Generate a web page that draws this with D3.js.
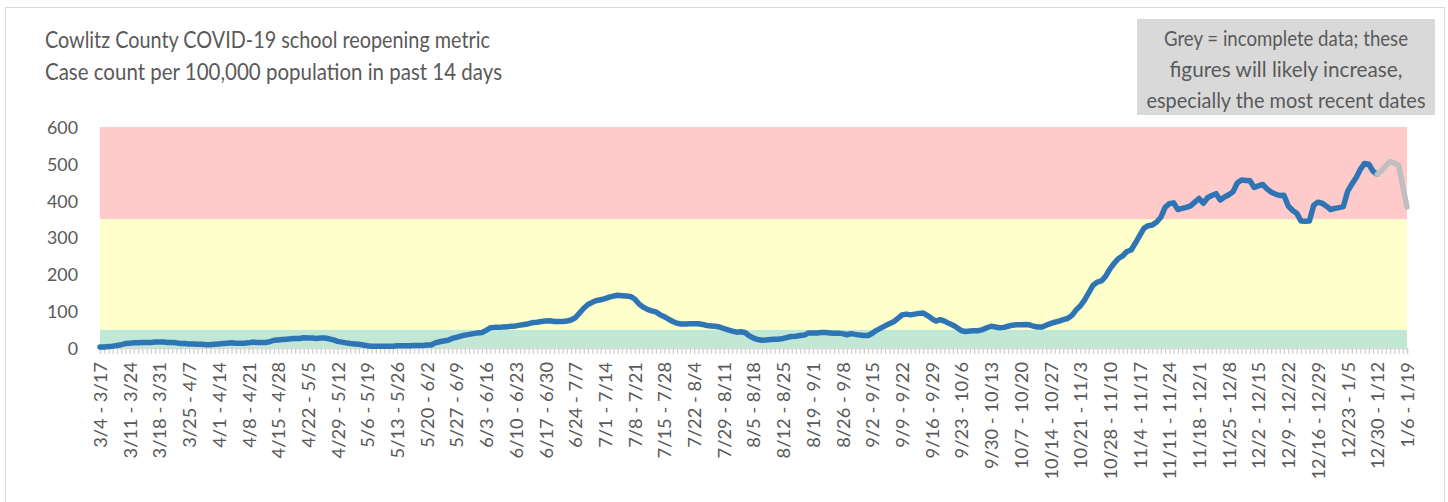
<!DOCTYPE html>
<html><head><meta charset="utf-8">
<script src="https://cdn.jsdelivr.net/npm/d3@7"></script>
<style>
html,body{margin:0;padding:0;background:#fff;}
text{font-family:Lato,"Open Sans",sans-serif;fill:#595959;}
</style></head>
<body>
<svg id="c" width="1448" height="502"></svg>
<script>
// ---------- data ----------
const titleLines = ["Cowlitz County COVID-19 school reopening metric",
                    "Case count per 100,000 population in past 14 days"];
const noteLines = ["Grey = incomplete data; these",
                   "figures will likely increase,",
                   "especially the most recent dates"];
const dayCount = 309;            // daily 14-day periods, 3/4-3/17 ... 1/6-1/19
const labelEvery = 7;
const tickLabels = ["3/4 - 3/17","3/11 - 3/24","3/18 - 3/31","3/25 - 4/7","4/1 - 4/14","4/8 - 4/21",
 "4/15 - 4/28","4/22 - 5/5","4/29 - 5/12","5/6 - 5/19","5/13 - 5/26","5/20 - 6/2","5/27 - 6/9",
 "6/3 - 6/16","6/10 - 6/23","6/17 - 6/30","6/24 - 7/7","7/1 - 7/14","7/8 - 7/21","7/15 - 7/28",
 "7/22 - 8/4","7/29 - 8/11","8/5 - 8/18","8/12 - 8/25","8/19 - 9/1","8/26 - 9/8","9/2 - 9/15",
 "9/9 - 9/22","9/16 - 9/29","9/23 - 10/6","9/30 - 10/13","10/7 - 10/20","10/14 - 10/27",
 "10/21 - 11/3","10/28 - 11/10","11/4 - 11/17","11/11 - 11/24","11/18 - 12/1","11/25 - 12/8",
 "12/2 - 12/15","12/9 - 12/22","12/16 - 12/29","12/23 - 1/5","12/30 - 1/12","1/6 - 1/19"];
const yTicks = [0,100,200,300,400,500,600];
const bands = [ {from:0, to:50, color:"#c0e8d4"},
                {from:50, to:350, color:"#ffffcc"},
                {from:350, to:600, color:"#ffcaca"} ];
// complete data, periods 0..301
const values = [
 3,3,4,5,7,9,12,13,14,14,
 15,15,15,16,16,16,15,15,14,12,
 12,11,11,10,10,9,9,10,11,12,
 13,14,13,13,13,14,16,15,15,15,
 17,21,22,23,24,25,26,26,28,27,
 27,26,27,27,25,22,18,16,14,12,
 11,10,8,6,5,5,5,5,5,5,
 6,6,6,6,7,7,7,8,8,14,
 17,19,21,26,29,32,35,37,39,41,
 42,48,55,56,56,57,58,59,60,62,
 64,66,69,70,72,73,74,72,72,72,
 73,76,82,95,108,118,124,129,131,134,
 138,141,143,142,141,140,133,120,111,105,
 101,98,90,85,78,72,67,65,65,66,
 66,66,64,61,60,59,57,53,49,46,
 43,44,42,33,27,23,21,22,23,24,
 24,26,29,31,32,34,35,41,41,41,
 42,42,41,40,40,39,36,39,37,35,
 34,34,40,48,54,60,66,71,80,90,
 92,90,92,94,95,88,80,73,77,73,
 67,62,55,47,45,46,47,47,50,55,
 59,57,55,56,59,62,63,63,64,63,
 59,57,57,62,66,70,73,77,80,88,
 103,114,130,150,170,179,182,195,215,230,
 243,250,262,266,285,305,325,332,334,342,
 355,382,392,394,376,379,382,386,396,406,
 393,408,414,419,402,410,416,424,448,456,
 455,454,436,440,444,432,423,418,414,415,
 386,374,366,345,344,345,387,396,393,385,
 376,379,381,384,425,445,462,485,501,499,
 480,472];
// incomplete data, periods 301..308
const incompleteStart = 301;
const incomplete = [472,481,495,506,502,497,440,383];

// ---------- drawing ----------
const svg = d3.select("#c");
const plot = {left:100, right:1407, top:127, bottom:348};
const x = d3.scaleLinear().domain([0, dayCount-1]).range([plot.left, plot.right]);
const y = d3.scaleLinear().domain([0, 600]).range([plot.bottom, plot.top]);

// squeeze text horizontally to a target length, keeping the given glyph height
function squeeze(node, target){
  node.setAttribute("textLength", target);
  node.setAttribute("lengthAdjust", "spacingAndGlyphs");
}

// chart border
svg.append("rect").attr("x",5.5).attr("y",7.5).attr("width",1439).attr("height",520)
  .attr("fill","none").attr("stroke","#d9d9d9").attr("stroke-width",1);

// bands
svg.append("g").selectAll("rect").data(bands).join("rect")
  .attr("x", x(0)).attr("width", x(dayCount-1)-x(0))
  .attr("y", d=>y(d.to)).attr("height", d=>y(d.from)-y(d.to))
  .attr("fill", d=>d.color);

// x axis
const xAxis = d3.axisBottom(x)
  .tickValues(d3.range(dayCount))
  .tickSize(6)
  .tickFormat(i => i % labelEvery === 0 ? tickLabels[i/labelEvery] : "");
const gx = svg.append("g").attr("transform",`translate(0,${plot.bottom})`).call(xAxis);
gx.select(".domain").attr("stroke","#d9d9d9").attr("stroke-width",1.5);
gx.selectAll(".tick line").attr("stroke","#d0d0d0").attr("stroke-width",1.3);
gx.selectAll(".tick text")
  .attr("font-size",18).attr("fill","#595959")
  .attr("transform","rotate(-90)").attr("text-anchor","end")
  .attr("x",-14).attr("y",0).attr("dy","0.36em");
{
  const ref = gx.selectAll(".tick text").filter(function(){return this.textContent==="12/30 - 1/12";}).node();
  const k = 107/ref.getComputedTextLength();
  gx.selectAll(".tick text").filter(function(){return this.textContent!=="";})
    .each(function(){ squeeze(this, (this.getComputedTextLength()*k).toFixed(1)); });
}

// y axis
const yAxis = d3.axisLeft(y).tickValues(yTicks).tickSize(0).tickPadding(22);
const gy = svg.append("g").attr("transform",`translate(${plot.left},0)`).call(yAxis);
gy.select(".domain").remove();
gy.selectAll(".tick text").attr("font-size",17.5).attr("fill","#595959").attr("dy","0.36em");
{
  const ref = gy.selectAll(".tick text").filter(function(){return this.textContent==="600";}).node();
  const k = 31/ref.getComputedTextLength();
  gy.selectAll(".tick text").attr("font-size",(17.5*k).toFixed(2));
}

// lines
const line = d3.line().x(d=>x(d.i)).y(d=>y(d.v));
svg.append("path")
  .datum(values.map((v,i)=>({i, v})))
  .attr("d", line).attr("fill","none").attr("stroke","#2e75b6")
  .attr("stroke-width",5.5).attr("stroke-linejoin","round").attr("stroke-linecap","round");
svg.append("path")
  .datum(incomplete.map((v,k)=>({i:incompleteStart+k, v})))
  .attr("d", line).attr("fill","none").attr("stroke","#bfbfbf")
  .attr("stroke-width",5.5).attr("stroke-linejoin","round").attr("stroke-linecap","round");

// title
const titleWidths = [445, 457];
svg.append("g").selectAll("text").data(titleLines).join("text")
  .attr("x",45).attr("y",(d,i)=>48+i*32)
  .attr("font-size",23.5).text(d=>d)
  .each(function(d,i){ squeeze(this, titleWidths[i]); });

// note box
svg.append("rect").attr("x",1137).attr("y",19).attr("width",298).attr("height",96).attr("fill","#d9d9d9");
const noteWidths = [244, 233, 279];
svg.append("g").selectAll("text").data(noteLines).join("text")
  .attr("x",1286).attr("y",(d,i)=>46+i*31).attr("text-anchor","middle")
  .attr("font-size",21.5).text(d=>d)
  .each(function(d,i){ squeeze(this, noteWidths[i]); });
</script>
</body></html>
